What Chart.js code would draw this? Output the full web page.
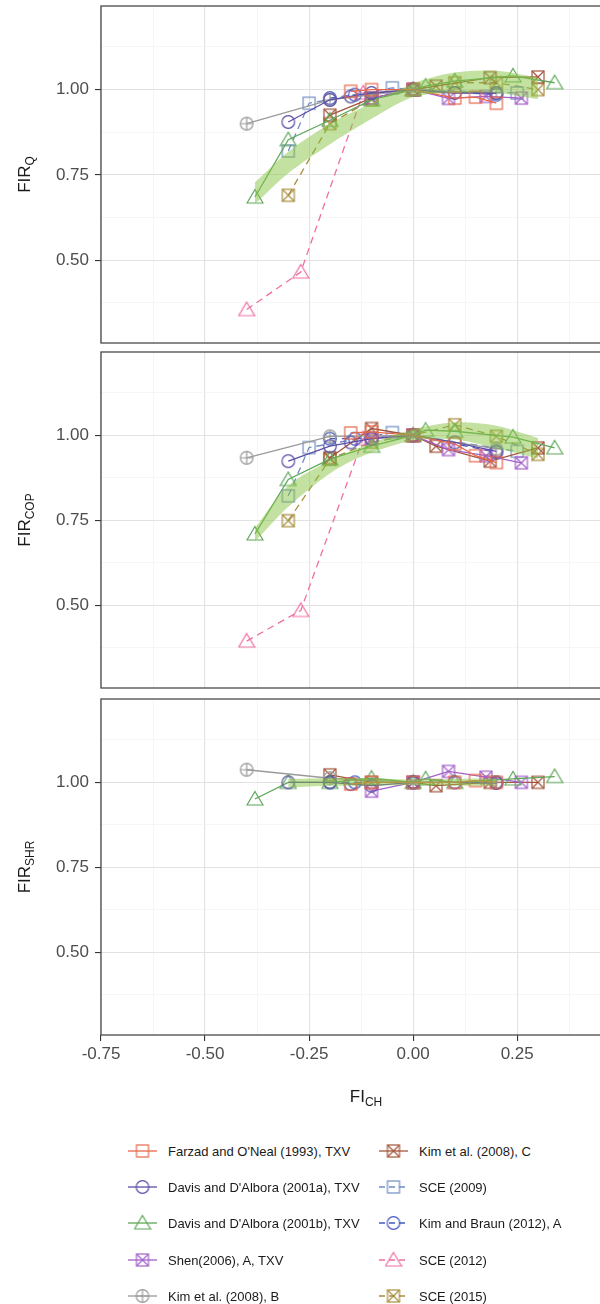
<!DOCTYPE html>
<html>
<head>
<meta charset="utf-8">
<script src="https://cdn.jsdelivr.net/npm/chart.js@4.4.1/dist/chart.umd.min.js"></script>
<style>
  body { margin: 0; background: #fff; width: 600px; height: 1304px; overflow: hidden; position: relative;
         font-family: "Liberation Sans", Arial, sans-serif; }
  canvas.panel { position: absolute; left: 0; }
  .lg { position: absolute; height: 20px; display: flex; align-items: center; }
  .lg span { font-size: 13px; color: #1a1a1a; white-space: nowrap; margin-left: 8px; }
</style>
</head>
<body>
<canvas class="panel" id="pQ" width="600" height="350" style="top:0px"></canvas>
<canvas class="panel" id="pCOP" width="600" height="348" style="top:350px"></canvas>
<canvas class="panel" id="pSHR" width="600" height="420" style="top:698px"></canvas>
<div id="legend"></div>
<script>
// FI_CH values and fault impact ratios
const fiFarzad  = [-0.15, -0.10, 0.00, 0.10, 0.15, 0.20];
const qFarzad   = [0.995, 1.00, 1.00, 0.975, 0.978, 0.96];
const copFarzad = [1.007, 1.01, 1.00, 0.975, 0.94, 0.92];
const shrFarzad = [0.995, 1.00, 1.00, 1.00, 1.005, 1.00];

const fiDavisA  = [-0.30, -0.20, -0.15, -0.10, 0.00, 0.10, 0.20];
const qDavisA   = [0.905, 0.97, 0.98, 0.99, 1.00, 0.99, 0.99];
const copDavisA = [0.924, 0.968, 0.979, 0.99, 1.00, 0.979, 0.953];
const shrDavisA = [1.00, 1.00, 0.995, 0.99, 1.00, 1.00, 0.998];

const fiDavisB  = [-0.38, -0.30, -0.20, -0.10, 0.00, 0.03, 0.10, 0.24, 0.34];
const qDavisB   = [0.685, 0.853, 0.91, 0.97, 1.00, 1.01, 1.025, 1.04, 1.02];
const copDavisB = [0.71, 0.87, 0.93, 0.968, 1.00, 1.015, 1.012, 0.995, 0.963];
const shrDavisB = [0.951, 1.00, 1.00, 1.012, 1.00, 1.01, 1.00, 1.01, 1.017];

const fiShen  = [-0.10, 0.00, 0.085, 0.175, 0.26];
const qShen   = [0.975, 1.00, 0.974, 0.98, 0.975];
const copShen = [0.99, 1.00, 0.958, 0.94, 0.919];
const shrShen = [0.974, 1.00, 1.032, 1.015, 1.00];

const fiKimB  = [-0.40, -0.20, 0.00, 0.20];
const qKimB   = [0.90, 0.97, 1.00, 0.99];
const copKimB = [0.934, 0.997, 1.00, 0.96];
const shrKimB = [1.037, 1.012, 1.00, 1.00];

const fiKimC  = [-0.20, -0.10, 0.00, 0.055, 0.185, 0.30];
const qKimC   = [0.925, 0.975, 1.00, 1.01, 1.035, 1.037];
const copKimC = [0.934, 1.02, 1.00, 0.968, 0.924, 0.963];
const shrKimC = [1.022, 1.00, 1.00, 0.99, 1.00, 1.00];

const fiSce2009  = [-0.30, -0.25, -0.05, 0.00, 0.25];
const qSce2009   = [0.82, 0.96, 1.005, 1.00, 0.99];
const copSce2009 = [0.822, 0.964, 1.008, 1.00, 0.953];
const shrSce2009 = [];

const fiKimBraun  = [-0.20, -0.14, 0.00, 0.20];
const qKimBraun   = [0.975, 0.985, 1.00, 0.985];
const copKimBraun = [0.99, 0.99, 1.00, 0.95];
const shrKimBraun = [1.00, 1.00, 1.00, 1.00];

const fiSce2012  = [-0.40, -0.27, -0.12, 0.00];
const qSce2012   = [0.355, 0.465, 0.99, 1.00];
const copSce2012 = [0.395, 0.485, 0.99, 1.00];
const shrSce2012 = [];

const fiSce2015  = [-0.30, -0.20, -0.10, 0.00, 0.10, 0.20, 0.30];
const qSce2015   = [0.69, 0.90, 0.97, 1.00, 1.02, 1.02, 1.00];
const copSce2015 = [0.749, 0.93, 0.98, 1.00, 1.031, 0.997, 0.944];
const shrSce2015 = [];

// green band round the Davis (2001b) trend
const ribbonFi      = [-0.38, -0.30, -0.20, -0.12, 0.00, 0.10, 0.20, 0.30];
const ribbonQLow    = [0.665, 0.755, 0.84, 0.90, 0.978, 0.99, 0.99, 0.972];
const ribbonQHigh   = [0.728, 0.818, 0.90, 0.948, 1.018, 1.05, 1.055, 1.035];
const ribbonCopLow  = [0.688, 0.79, 0.888, 0.94, 0.985, 0.988, 0.962, 0.932];
const ribbonCopHigh = [0.728, 0.852, 0.926, 0.968, 1.018, 1.038, 1.028, 0.992];
const ribbonShrFi   = [-0.30, -0.20, -0.10, 0.00, 0.10, 0.20];
const ribbonShrLow  = [0.985, 0.99, 0.99, 0.992, 0.99, 0.99];
const ribbonShrHigh = [1.01, 1.012, 1.012, 1.008, 1.01, 1.012];

const xTicks = [-0.75, -0.625, -0.5, -0.375, -0.25, -0.125, 0, 0.125, 0.25, 0.375];
const yTicks = [0.375, 0.5, 0.625, 0.75, 0.875, 1.0, 1.125];

const FONT = '"Liberation Sans", Arial, sans-serif';

const studies = [
  { name: "Farzad and O'Neal (1993), TXV", color: '#e8674a', shape: 'square', dashed: false, fi: fiFarzad, q: qFarzad, cop: copFarzad, shr: shrFarzad },
  { name: "Davis and D'Albora (2001a), TXV", color: '#5b4ea6', shape: 'circle', dashed: false, fi: fiDavisA, q: qDavisA, cop: copDavisA, shr: shrDavisA },
  { name: "Davis and D'Albora (2001b), TXV", color: '#5fa85a', shape: 'triangle', dashed: false, fi: fiDavisB, q: qDavisB, cop: copDavisB, shr: shrDavisB },
  { name: "Shen(2006), A, TXV", color: '#a35fc9', shape: 'boxx', dashed: false, fi: fiShen, q: qShen, cop: copShen, shr: shrShen },
  { name: "Kim et al. (2008), B", color: '#9a9a9a', shape: 'circplus', dashed: false, fi: fiKimB, q: qKimB, cop: copKimB, shr: shrKimB },
  { name: "Kim et al. (2008), C", color: '#a3553a', shape: 'boxx', dashed: false, fi: fiKimC, q: qKimC, cop: copKimC, shr: shrKimC },
  { name: "SCE (2009)", color: '#6f8cc4', shape: 'square', dashed: true, fi: fiSce2009, q: qSce2009, cop: copSce2009, shr: shrSce2009 },
  { name: "Kim and Braun (2012), A", color: '#4459c0', shape: 'circle', dashed: true, fi: fiKimBraun, q: qKimBraun, cop: copKimBraun, shr: shrKimBraun },
  { name: "SCE (2012)", color: '#ef6fa3', shape: 'triangle', dashed: true, fi: fiSce2012, q: qSce2012, cop: copSce2012, shr: shrSce2012 },
  { name: "SCE (2015)", color: '#a98d3c', shape: 'boxx', dashed: true, fi: fiSce2015, q: qSce2015, cop: copSce2015, shr: shrSce2015 }
];

function makeMarker(shape, color) {
  const c = document.createElement('canvas');
  c.width = 18; c.height = 18;
  const g = c.getContext('2d');
  g.strokeStyle = color; g.lineWidth = 1.2;
  const m = 9;
  if (shape === 'square' || shape === 'boxx') {
    g.strokeRect(m - 6, m - 6, 12, 12);
    if (shape === 'boxx') {
      g.beginPath();
      g.moveTo(m - 6, m - 6); g.lineTo(m + 6, m + 6);
      g.moveTo(m + 6, m - 6); g.lineTo(m - 6, m + 6);
      g.stroke();
    }
  } else if (shape === 'circle' || shape === 'circplus') {
    g.beginPath(); g.arc(m, m, 6.3, 0, Math.PI * 2); g.stroke();
    if (shape === 'circplus') {
      g.beginPath();
      g.moveTo(m - 6.3, m); g.lineTo(m + 6.3, m);
      g.moveTo(m, m - 6.3); g.lineTo(m, m + 6.3);
      g.stroke();
    }
  } else if (shape === 'triangle') {
    g.beginPath();
    g.moveTo(m, m - 7.5); g.lineTo(m + 8, m + 6); g.lineTo(m - 8, m + 6);
    g.closePath(); g.stroke();
  }
  return c;
}

studies.forEach(s => { s.marker = makeMarker(s.shape, s.color); });

function toPoints(xs, ys) {
  return ys.map((y, i) => ({ x: xs[i], y: y }));
}

function isMajor(v) {
  return Math.abs(v / 0.25 - Math.round(v / 0.25)) < 1e-6;
}

const panelFrame = {
  id: 'panelFrame',
  afterDraw(chart, args, opts) {
    const a = chart.chartArea, g = chart.ctx;
    g.save();
    g.strokeStyle = '#4a4a4a'; g.lineWidth = 1.3;
    g.strokeRect(a.left, a.top, a.right - a.left + 10, a.bottom - a.top);
    g.fillStyle = '#1a1a1a';
    // y title with subscript
    g.font = '17px ' + FONT;
    const w1 = g.measureText('FIR').width;
    g.font = '12px ' + FONT;
    const w2 = g.measureText(opts.sub).width;
    g.translate(29.5, (a.top + a.bottom) / 2);
    g.rotate(-Math.PI / 2);
    g.textBaseline = 'alphabetic'; g.textAlign = 'left';
    g.font = '17px ' + FONT;
    g.fillText('FIR', -(w1 + w2) / 2, 0);
    g.font = '12px ' + FONT;
    g.fillText(opts.sub, -(w1 + w2) / 2 + w1, 4);
    g.restore();
    if (opts.xTitle) {
      g.save();
      g.fillStyle = '#1a1a1a';
      g.font = '17px ' + FONT;
      const t1 = g.measureText('FI').width;
      g.font = '12px ' + FONT;
      const t2 = g.measureText('CH').width;
      const cx = 366, by = a.bottom + 67;
      g.textBaseline = 'alphabetic'; g.textAlign = 'left';
      g.font = '17px ' + FONT;
      g.fillText('FI', cx - (t1 + t2) / 2, by);
      g.font = '12px ' + FONT;
      g.fillText('CH', cx - (t1 + t2) / 2 + t1, by + 4);
      g.restore();
    }
  }
};

function makePanel(id, key, sub, rFi, rLow, rHigh, pad, showX) {
  const datasets = [
    { data: toPoints(rFi, rHigh), borderWidth: 0, pointRadius: 0, fill: '+1',
      backgroundColor: 'rgba(135,195,65,0.5)', tension: 0.3 },
    { data: toPoints(rFi, rLow), borderWidth: 0, pointRadius: 0, fill: false, tension: 0.3 }
  ];
  studies.forEach(s => {
    datasets.push({
      data: toPoints(s.fi, s[key]),
      borderColor: s.color,
      borderWidth: 1.3,
      borderDash: s.dashed ? [7, 5] : [],
      pointStyle: s.marker,
      pointRadius: 6,
      fill: false,
      tension: 0
    });
  });
  const gridColor = c => (c.tick && isMajor(c.tick.value)) ? '#e2e2e2' : '#f0f0f0';
  const gridWidth = c => (c.tick && isMajor(c.tick.value)) ? 1.1 : 0.6;
  const tickColor = c => (c.tick && isMajor(c.tick.value)) ? '#333333' : 'rgba(0,0,0,0)';
  return new Chart(document.getElementById(id), {
    type: 'line',
    data: { datasets: datasets },
    plugins: [panelFrame],
    options: {
      responsive: false,
      animation: false,
      devicePixelRatio: 1,
      layout: { autoPadding: false, padding: { top: pad[0], bottom: pad[1], left: 0, right: 0 } },
      plugins: {
        legend: { display: false },
        tooltip: { enabled: false },
        panelFrame: { sub: sub, xTitle: showX }
      },
      scales: {
        x: {
          type: 'linear', min: -0.75, max: 0.449,
          afterBuildTicks: s => { s.ticks = xTicks.map(v => ({ value: v })); },
          afterFit: s => { s.height = showX ? 83 : 0; s.paddingLeft = 0; s.paddingRight = 0; },
          border: { display: false },
          grid: { color: gridColor, lineWidth: gridWidth, drawTicks: showX, tickLength: 6,
                  tickColor: tickColor, tickWidth: 1.1 },
          ticks: { display: showX, autoSkip: false, maxRotation: 0, padding: 3, color: '#4d4d4d',
                   font: { family: FONT, size: 17 },
                   callback: v => isMajor(v) ? v.toFixed(2) : '' }
        },
        y: {
          type: 'linear', min: 0.257, max: 1.245,
          afterBuildTicks: s => { s.ticks = yTicks.map(v => ({ value: v })); },
          afterFit: s => { s.width = 101; s.paddingTop = 0; s.paddingBottom = 0; },
          border: { display: false },
          grid: { color: gridColor, lineWidth: gridWidth, tickLength: 6,
                  tickColor: tickColor, tickWidth: 1.1 },
          ticks: { autoSkip: false, padding: 6, color: '#4d4d4d',
                   font: { family: FONT, size: 17 },
                   callback: v => isMajor(v) ? v.toFixed(2) : '' }
        }
      }
    }
  });
}

makePanel('pQ', 'q', 'Q', ribbonFi, ribbonQLow, ribbonQHigh, [6, 7], false);
makePanel('pCOP', 'cop', 'COP', ribbonFi, ribbonCopLow, ribbonCopHigh, [2, 10], false);
makePanel('pSHR', 'shr', 'SHR', ribbonShrFi, ribbonShrLow, ribbonShrHigh, [1, 0], true);

// legend, two columns
const legendRows = [1151, 1187, 1223, 1260, 1296];
const legendCols = [126, 377];
const legendBox = document.getElementById('legend');
studies.forEach((s, i) => {
  const col = i < 5 ? 0 : 1;
  const row = i % 5;
  const item = document.createElement('div');
  item.className = 'lg';
  item.style.left = legendCols[col] + 'px';
  item.style.top = (legendRows[row] - 10) + 'px';
  const k = document.createElement('canvas');
  k.width = 34; k.height = 20;
  const g = k.getContext('2d');
  g.strokeStyle = s.color; g.lineWidth = 1.3;
  if (s.dashed) g.setLineDash([6, 4]);
  g.beginPath(); g.moveTo(2, 10); g.lineTo(31, 10); g.stroke();
  g.setLineDash([]);
  g.drawImage(s.marker, 16.5 - 9, 10 - 9);
  const t = document.createElement('span');
  t.textContent = s.name;
  item.appendChild(k);
  item.appendChild(t);
  legendBox.appendChild(item);
});
</script>
</body>
</html>
